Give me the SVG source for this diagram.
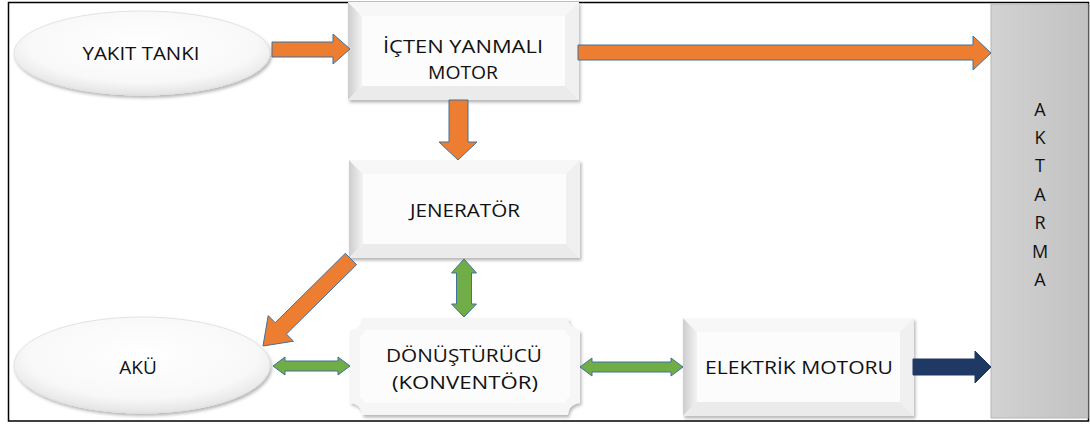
<svg xmlns="http://www.w3.org/2000/svg" width="1090" height="425" viewBox="0 0 1090 425">
<style>
  .t{font-family:"Open Sans","Noto Sans",sans-serif;font-size:19px;fill:#111111;text-anchor:middle}
  .v{font-family:"Open Sans","Noto Sans",sans-serif;font-size:18px;fill:#111111;text-anchor:middle}
  .or{fill:#ED7D31;stroke:#41719C;stroke-width:1}
  .gr{fill:#70AD47;stroke:#41719C;stroke-width:1}
  .nv{fill:#203864;stroke:#203864;stroke-width:1}
</style>
<defs>
  <filter id="sh" x="-10%" y="-10%" width="125%" height="130%">
    <feDropShadow dx="1.5" dy="2.5" stdDeviation="1.8" flood-color="#000" flood-opacity="0.28"/>
  </filter>
  <linearGradient id="gL" x1="0" y1="0" x2="1" y2="0">
    <stop offset="0" stop-color="#cdcdcd"/>
    <stop offset="1" stop-color="#f3f3f3"/>
  </linearGradient>
  <linearGradient id="gP" x1="0" y1="0" x2="1" y2="0">
    <stop offset="0" stop-color="#d2d2d2"/>
    <stop offset="1" stop-color="#c2c2c2"/>
  </linearGradient>
  <radialGradient id="gE" cx="0.5" cy="0.4" r="0.6">
    <stop offset="0" stop-color="#ffffff"/>
    <stop offset="0.75" stop-color="#f8f8f8"/>
    <stop offset="1" stop-color="#e4e4e4"/>
  </radialGradient>
  <g id="bevel">
    <rect x="0" y="0" width="231" height="98" fill="#f8f8f8"/>
    <polygon points="0,0 14,14 14,84 0,98" fill="url(#gL)"/>
    <polygon points="0,0 231,0 217,14 14,14" fill="#f7f7f7"/>
    <polygon points="231,0 231,98 217,84 217,14" fill="#f0f0f0"/>
    <polygon points="0,98 231,98 217,84 14,84" fill="#ebebeb"/>
    <rect x="14" y="14" width="203" height="70" fill="#fcfcfc"/>
  </g>
</defs>

<rect x="8.5" y="2.5" width="1080" height="418.5" fill="#ffffff" stroke="#000" stroke-width="1.5"/>

<g id="aktarma">
  <rect x="991" y="4" width="97" height="414" fill="url(#gP)" stroke="#b5b5b5" stroke-width="1"/>
  <text class="v" x="1040" y="116">A</text>
  <text class="v" x="1040" y="144">K</text>
  <text class="v" x="1040" y="172">T</text>
  <text class="v" x="1040" y="201">A</text>
  <text class="v" x="1040" y="229">R</text>
  <text class="v" x="1040" y="258">M</text>
  <text class="v" x="1040" y="286">A</text>
</g>

<g id="yakit-tanki">
  <ellipse cx="142" cy="53" rx="128" ry="42" fill="url(#gE)" stroke="#e2e2e2" stroke-width="1" filter="url(#sh)"/>
  <text class="t" x="141" y="60" textLength="117" lengthAdjust="spacingAndGlyphs">YAKIT TANKI</text>
</g>

<g id="akue">
  <ellipse cx="142" cy="365" rx="128" ry="48" fill="url(#gE)" stroke="#e2e2e2" stroke-width="1" filter="url(#sh)"/>
  <text class="t" x="138" y="374">AKÜ</text>
</g>

<g id="motor">
  <use href="#bevel" x="348" y="2" filter="url(#sh)"/>
  <text class="t" x="463" y="53" textLength="160" lengthAdjust="spacingAndGlyphs">İÇTEN YANMALI</text>
  <text class="t" x="463" y="79" textLength="70" lengthAdjust="spacingAndGlyphs">MOTOR</text>
</g>

<g id="jenerator">
  <use href="#bevel" x="349" y="160" filter="url(#sh)"/>
  <text class="t" x="465" y="217" textLength="110" lengthAdjust="spacingAndGlyphs">JENERATÖR</text>
</g>

<g id="donusturucu">
  <path d="M362,318 H568 A12,12 0 0 0 580,330 V403 A12,12 0 0 0 568,415 H362 A12,12 0 0 0 350,403 V330 A12,12 0 0 0 362,318 Z" fill="#f6f6f6" filter="url(#sh)"/>
  <path d="M365,330 H565 A8,8 0 0 0 570,336 V397 A8,8 0 0 0 565,403 H365 A8,8 0 0 0 360,397 V336 A8,8 0 0 0 365,330 Z" fill="#fcfcfc"/>
  <text class="t" x="464" y="362" textLength="156" lengthAdjust="spacingAndGlyphs">DÖNÜŞTÜRÜCÜ</text>
  <text class="t" x="465" y="389" textLength="146" lengthAdjust="spacingAndGlyphs">(KONVENTÖR)</text>
</g>

<g id="elektrik-motoru">
  <use href="#bevel" x="683" y="318" filter="url(#sh)"/>
  <text class="t" x="799" y="374" textLength="188" lengthAdjust="spacingAndGlyphs">ELEKTRİK MOTORU</text>
</g>

<g id="connectors">
  <polygon class="or" points="272,42 333,42 333,34 350,49 333,64 333,57 272,57"/>
  <polygon class="or" points="578,45 973,45 973,36 991,53 973,70 973,60 578,60"/>
  <polygon class="or" points="449,100 468,100 468,142 477,142 458,160 439,142 449,142"/>
  <polygon class="or" points="345.4,253.3 356.6,264.7 286.4,334.1 293.5,341.2 263,346 268.2,315.6 275.2,322.7"/>
  <polygon class="gr" points="464,259 476.5,273 471.5,273 471.5,304 476.5,304 464,317 451.5,304 456.5,304 456.5,273 451.5,273"/>
  <polygon class="gr" points="273,366 285,357 285,361 338,361 338,357 350,366 338,375 338,371 285,371 285,375"/>
  <polygon class="gr" points="580,367 592,358 592,362 671,362 671,358 683,367 671,376 671,372 592,372 592,376"/>
  <polygon class="nv" points="913,359 975,359 975,351 991,367 975,383 975,375 913,375"/>
</g>
</svg>
